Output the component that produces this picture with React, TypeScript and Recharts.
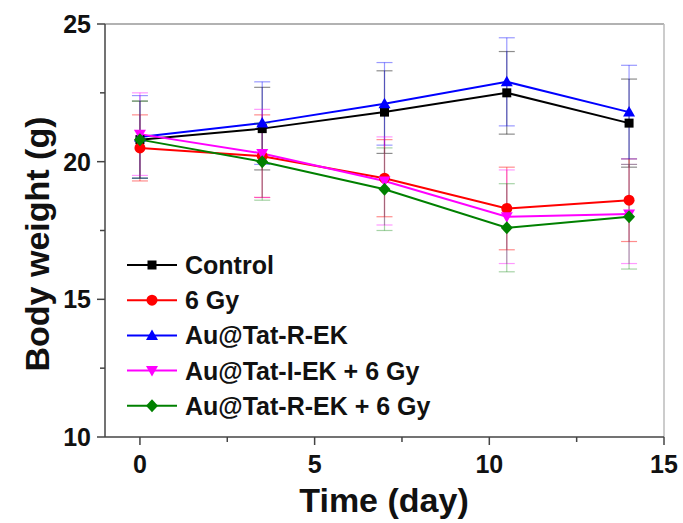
import React from 'react';
import { LineChart, Line, XAxis, YAxis, ErrorBar, ReferenceLine } from 'recharts';

const days = [0, 3.5, 7, 10.5, 14];

const control = [20.8, 21.2, 21.8, 22.5, 21.4];
const controlErr = [1.4, 1.5, 1.5, 1.5, 1.6];
const gy6 = [20.5, 20.2, 19.4, 18.3, 18.6];
const gy6Err = [1.2, 1.5, 1.4, 1.5, 1.5];
const tatR = [20.9, 21.4, 22.1, 22.9, 21.8];
const tatRErr = [1.5, 1.5, 1.5, 1.6, 1.7];
const tatI6 = [21.0, 20.3, 19.3, 18.0, 18.1];
const tatI6Err = [1.5, 1.6, 1.6, 1.7, 1.8];
const tatR6 = [20.8, 20.0, 19.0, 17.6, 18.0];
const tatR6Err = [1.4, 1.4, 1.5, 1.6, 1.9];

const xTicks = [0, 2.5, 5, 7.5, 10, 12.5, 15];
const yTicks = [10, 12.5, 15, 17.5, 20, 22.5, 25];

const FONT = '"Liberation Sans", Arial, sans-serif';

const series = [
  { key: 'control', name: 'Control', color: '#000000', err: 'rgba(0,0,0,0.45)', shape: 'square' },
  { key: 'gy6', name: '6 Gy', color: '#ff0000', err: 'rgba(255,0,0,0.45)', shape: 'circle' },
  { key: 'tatR', name: 'Au@Tat-R-EK', color: '#0000ff', err: 'rgba(0,0,255,0.4)', shape: 'up' },
  { key: 'tatI6', name: 'Au@Tat-I-EK + 6 Gy', color: '#ff00ff', err: 'rgba(255,0,255,0.4)', shape: 'down' },
  { key: 'tatR6', name: 'Au@Tat-R-EK + 6 Gy', color: '#008000', err: 'rgba(0,128,0,0.35)', shape: 'diamond' },
];

const data = days.map((d, i) => ({
  day: d,
  control: control[i], controlErr: controlErr[i],
  gy6: gy6[i], gy6Err: gy6Err[i],
  tatR: tatR[i], tatRErr: tatRErr[i],
  tatI6: tatI6[i], tatI6Err: tatI6Err[i],
  tatR6: tatR6[i], tatR6Err: tatR6Err[i],
}));

function Marker({ cx, cy, shape, color }: any) {
  if (cx == null || cy == null) return null;
  switch (shape) {
    case 'square':
      return <rect x={cx - 4.5} y={cy - 4.5} width={9} height={9} fill={color} />;
    case 'circle':
      return <circle cx={cx} cy={cy} r={5.5} fill={color} />;
    case 'up':
      return <polygon points={`${cx},${cy - 6} ${cx - 6},${cy + 4.5} ${cx + 6},${cy + 4.5}`} fill={color} />;
    case 'down':
      return <polygon points={`${cx},${cy + 6} ${cx - 6},${cy - 4.5} ${cx + 6},${cy - 4.5}`} fill={color} />;
    default:
      return <polygon points={`${cx},${cy - 6.5} ${cx + 6},${cy} ${cx},${cy + 6.5} ${cx - 6},${cy}`} fill={color} />;
  }
}

const XTick = ({ x, y, payload }: any) => {
  const major = payload.value % 5 === 0;
  return (
    <g>
      <line x1={x} y1={y} x2={x} y2={y + (major ? 8 : 5)} stroke="#444" strokeWidth={1.5} />
      {major && (
        <text x={x} y={y + 36} textAnchor="middle" fontFamily={FONT} fontWeight="bold" fontSize={25} fill="#111">
          {payload.value}
        </text>
      )}
    </g>
  );
};

const YTick = ({ x, y, payload }: any) => {
  const major = payload.value % 5 === 0;
  return (
    <g>
      <line x1={x} y1={y} x2={x - (major ? 8 : 5)} y2={y} stroke="#444" strokeWidth={1.5} />
      {major && (
        <text x={x - 14} y={y + 9} textAnchor="end" fontFamily={FONT} fontWeight="bold" fontSize={25} fill="#111">
          {payload.value}
        </text>
      )}
    </g>
  );
};

export default function App() {
  return (
    <div style={{ position: 'absolute', left: 0, top: 0, width: 683, height: 523, background: '#fff' }}>
      <LineChart width={683} height={523} data={data} margin={{ top: 24, right: 19, bottom: 0, left: 0 }}>
        <XAxis
          dataKey="day"
          type="number"
          domain={[-1, 15]}
          ticks={xTicks}
          interval={0}
          height={86}
          tickSize={0}
          tickMargin={0}
          tick={<XTick />}
          axisLine={{ stroke: '#444', strokeWidth: 1.5 }}
        />
        <YAxis
          type="number"
          domain={[10, 25]}
          ticks={yTicks}
          interval={0}
          width={105}
          tickSize={0}
          tickMargin={0}
          tick={<YTick />}
          axisLine={{ stroke: '#444', strokeWidth: 1.5 }}
        />
        <ReferenceLine y={25} stroke="#999" strokeWidth={1.5} />
        <ReferenceLine x={15} stroke="#bbb" strokeWidth={1.5} />
        {series.map((s) => (
          <Line
            key={s.key}
            dataKey={s.key}
            stroke={s.color}
            strokeWidth={2}
            isAnimationActive={false}
            dot={(p: any) => <Marker key={`${s.key}-${p.index}`} cx={p.cx} cy={p.cy} shape={s.shape} color={s.color} />}
            activeDot={false}
          >
            <ErrorBar dataKey={`${s.key}Err`} direction="y" width={8} stroke={s.err} strokeWidth={1.2} isAnimationActive={false} />
          </Line>
        ))}
      </LineChart>
      <svg width={683} height={523} style={{ position: 'absolute', left: 0, top: 0, pointerEvents: 'none' }}>
        <text
          x={384}
          y={512}
          textAnchor="middle"
          fontFamily={FONT}
          fontWeight="bold"
          fontSize={34}
          fill="#111"
        >
          Time (day)
        </text>
        <text
          transform="translate(49,244) rotate(-90)"
          textAnchor="middle"
          fontFamily={FONT}
          fontWeight="bold"
          fontSize={34}
          fill="#111"
        >
          Body weight (g)
        </text>
        {series.map((s, i) => {
          const y = 265 + i * 35.2;
          return (
            <g key={s.key}>
              <line x1={127} y1={y} x2={177} y2={y} stroke={s.color} strokeWidth={2} />
              <Marker cx={152} cy={y} shape={s.shape} color={s.color} />
              <text x={185} y={y + 9} fontFamily={FONT} fontWeight="bold" fontSize={25} fill="#111">
                {s.name}
              </text>
            </g>
          );
        })}
      </svg>
    </div>
  );
}
